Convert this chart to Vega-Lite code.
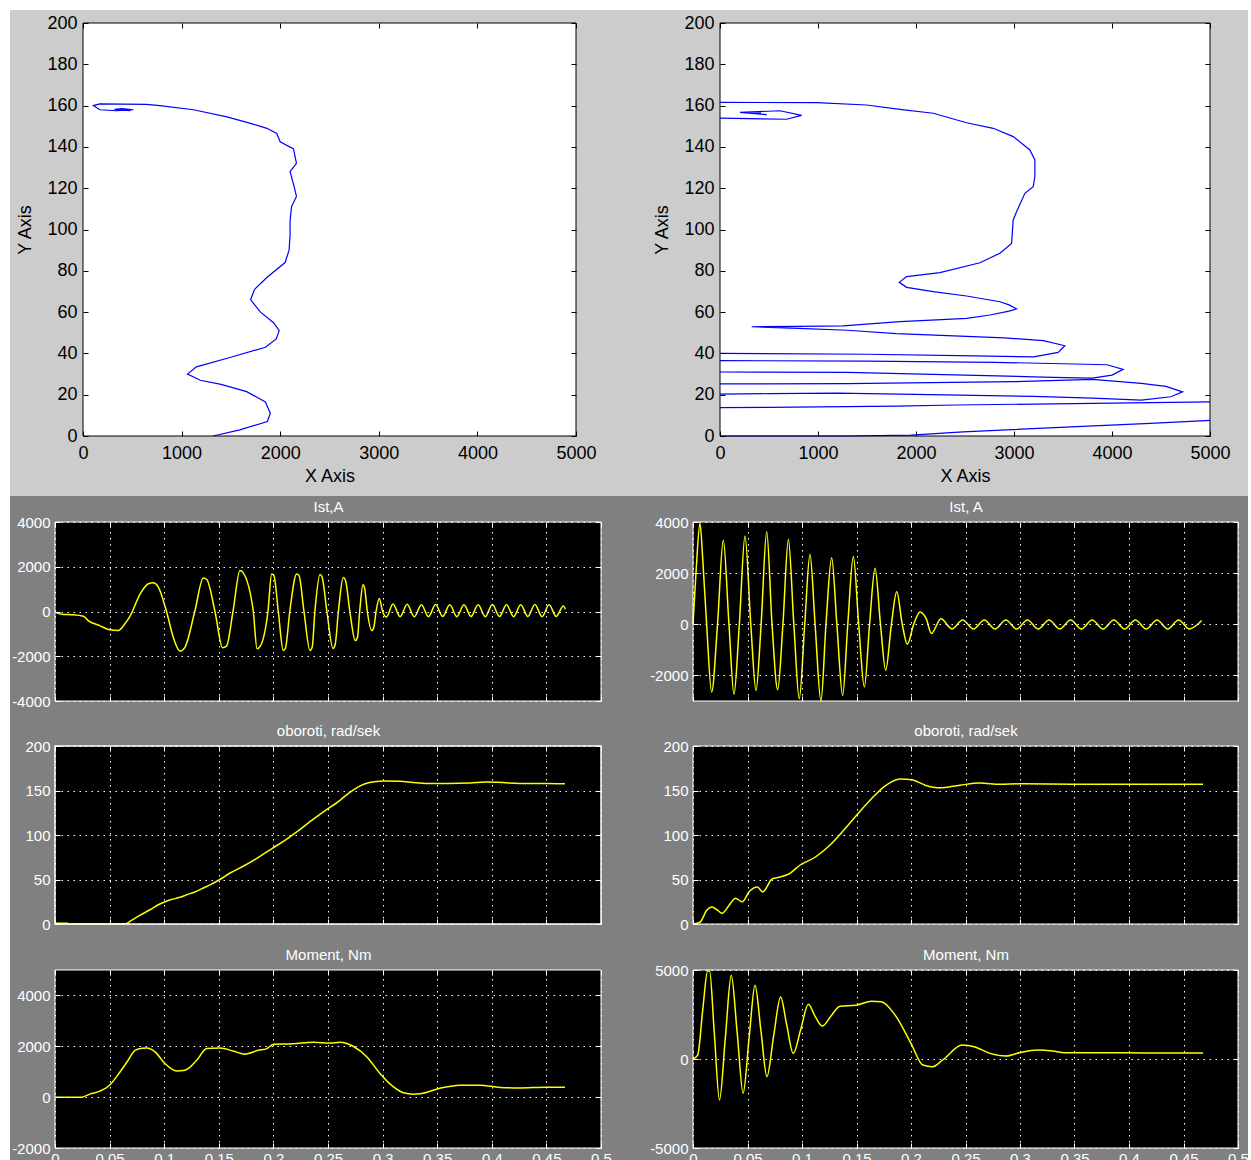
{
  "$schema": "https://vega.github.io/schema/vega-lite/v6.json",
  "background": "#ffffff",
  "padding": {"left": 10, "top": 10, "right": 3, "bottom": 0},
  "columns": 2,
  "spacing": 0,
  "bounds": "flush",
  "align": "each",
  "config": {
    "view": {"stroke": null},
    "axis": {
      "domain": false, "grid": false, "tickSize": -5, "tickWidth": 1,
      "labelFlush": false, "labelOverlap": false, "labelBound": false, "zindex": 1,
      "labelFont": "Liberation Sans", "titleFont": "Liberation Sans", "titleFontWeight": "normal",
      "labelFontSize": 15, "titleFontSize": 15, "labelPadding": 10,
      "gridColor": "#ffffff", "gridDash": [1.5, 4.5], "gridOpacity": 1, "gridWidth": 1,
      "tickColor": "#ffffff", "labelColor": "#ffffff", "titleColor": "#ffffff",
      "labelExpr": "'' + datum.value"
    }
  },
  "datasets": {
    "xyL": [
      {"i":0,"X":1320,"Y":0},{"i":1,"X":1590,"Y":3},{"i":2,"X":1870,"Y":7},{"i":3,"X":1900,"Y":11},
      {"i":4,"X":1850,"Y":16.5},{"i":5,"X":1660,"Y":21.5},{"i":6,"X":1400,"Y":25},{"i":7,"X":1190,"Y":27},
      {"i":8,"X":1060,"Y":30},{"i":9,"X":1150,"Y":33.5},{"i":10,"X":1490,"Y":38},{"i":11,"X":1850,"Y":43},
      {"i":12,"X":1960,"Y":47},{"i":13,"X":1990,"Y":51},{"i":14,"X":1930,"Y":55},{"i":15,"X":1800,"Y":60},
      {"i":16,"X":1700,"Y":66},{"i":17,"X":1740,"Y":71},{"i":18,"X":1870,"Y":77},{"i":19,"X":2050,"Y":84},
      {"i":20,"X":2090,"Y":90},{"i":21,"X":2100,"Y":97},{"i":22,"X":2100,"Y":104},{"i":23,"X":2115,"Y":111},
      {"i":24,"X":2165,"Y":116},{"i":25,"X":2140,"Y":121},{"i":26,"X":2100,"Y":128},{"i":27,"X":2165,"Y":132},
      {"i":28,"X":2135,"Y":139},{"i":29,"X":2000,"Y":142.5},{"i":30,"X":1965,"Y":146.5},{"i":31,"X":1865,"Y":149},
      {"i":32,"X":1690,"Y":151.5},{"i":33,"X":1460,"Y":154.5},{"i":34,"X":1120,"Y":158},{"i":35,"X":780,"Y":160},
      {"i":36,"X":645,"Y":160.6},{"i":37,"X":170,"Y":160.8},{"i":38,"X":105,"Y":160},{"i":39,"X":170,"Y":158},
      {"i":40,"X":340,"Y":157.5},{"i":41,"X":510,"Y":158},{"i":42,"X":400,"Y":158.6},{"i":43,"X":320,"Y":158.2},
      {"i":44,"X":480,"Y":157.6},{"i":45,"X":420,"Y":158}
    ],
    "xyR": [
      {"s":0,"i":0,"X":0,"Y":0},{"s":0,"i":1,"X":1300,"Y":0},{"s":0,"i":2,"X":1950,"Y":0.4},{"s":0,"i":3,"X":2480,"Y":2},
      {"s":0,"i":4,"X":3640,"Y":4.5},{"s":0,"i":5,"X":4390,"Y":6.1},{"s":0,"i":6,"X":5000,"Y":7.6},
      {"s":1,"i":7,"X":5000,"Y":16.5},{"s":1,"i":8,"X":3800,"Y":15.8},{"s":1,"i":9,"X":2400,"Y":15},{"s":1,"i":10,"X":1800,"Y":14.5},
      {"s":1,"i":11,"X":500,"Y":13.9},{"s":1,"i":12,"X":0,"Y":13.7},
      {"s":2,"i":13,"X":0,"Y":20.3},{"s":2,"i":14,"X":500,"Y":20.5},{"s":2,"i":15,"X":1200,"Y":20.8},{"s":2,"i":16,"X":2300,"Y":19.9},
      {"s":2,"i":17,"X":3200,"Y":19.2},{"s":2,"i":18,"X":3800,"Y":18.3},{"s":2,"i":19,"X":4300,"Y":17.4},{"s":2,"i":20,"X":4600,"Y":19},
      {"s":2,"i":21,"X":4720,"Y":21.4},{"s":2,"i":22,"X":4550,"Y":24},{"s":2,"i":23,"X":4300,"Y":25.5},{"s":2,"i":24,"X":3800,"Y":27.4},
      {"s":2,"i":25,"X":3000,"Y":26.3},{"s":2,"i":26,"X":1300,"Y":25.4},{"s":2,"i":27,"X":0,"Y":25.2},
      {"s":3,"i":28,"X":0,"Y":31},{"s":3,"i":29,"X":1300,"Y":30.8},{"s":3,"i":30,"X":2500,"Y":29.5},{"s":3,"i":31,"X":3400,"Y":28.4},
      {"s":3,"i":32,"X":3800,"Y":28},{"s":3,"i":33,"X":4000,"Y":29.5},{"s":3,"i":34,"X":4114,"Y":32.3},{"s":3,"i":35,"X":3950,"Y":34.5},
      {"s":3,"i":36,"X":3500,"Y":35},{"s":3,"i":37,"X":2800,"Y":35.7},{"s":3,"i":38,"X":1500,"Y":36.3},{"s":3,"i":39,"X":0,"Y":36.5},
      {"s":4,"i":40,"X":0,"Y":40},{"s":4,"i":41,"X":1500,"Y":39.6},{"s":4,"i":42,"X":2600,"Y":38.8},{"s":4,"i":43,"X":3200,"Y":38.3},
      {"s":4,"i":44,"X":3450,"Y":40.5},{"s":4,"i":45,"X":3519,"Y":43.7},{"s":4,"i":46,"X":3300,"Y":46.2},{"s":4,"i":47,"X":2900,"Y":47.5},
      {"s":4,"i":48,"X":2516,"Y":48.2},{"s":4,"i":49,"X":1800,"Y":49.6},{"s":4,"i":50,"X":1300,"Y":51.2},{"s":4,"i":51,"X":800,"Y":52.1},
      {"s":4,"i":52,"X":323,"Y":52.9},{"s":4,"i":53,"X":800,"Y":53.1},{"s":4,"i":54,"X":1258,"Y":53.3},{"s":4,"i":55,"X":1836,"Y":55.4},
      {"s":4,"i":56,"X":2210,"Y":56.2},{"s":4,"i":57,"X":2516,"Y":57},{"s":4,"i":58,"X":2754,"Y":58.6},{"s":4,"i":59,"X":2950,"Y":60.5},
      {"s":4,"i":60,"X":3026,"Y":61.6},{"s":4,"i":61,"X":2950,"Y":63.5},{"s":4,"i":62,"X":2856,"Y":65},{"s":4,"i":63,"X":2516,"Y":67.8},
      {"s":4,"i":64,"X":2176,"Y":69.9},{"s":4,"i":65,"X":1904,"Y":72},{"s":4,"i":66,"X":1829,"Y":74.4},{"s":4,"i":67,"X":1904,"Y":77.2},
      {"s":4,"i":68,"X":2244,"Y":79.1},{"s":4,"i":69,"X":2652,"Y":83.9},{"s":4,"i":70,"X":2856,"Y":88.5},{"s":4,"i":71,"X":2975,"Y":93.3},
      {"s":4,"i":72,"X":2992,"Y":104.6},{"s":4,"i":73,"X":3026,"Y":108.6},{"s":4,"i":74,"X":3111,"Y":117.5},{"s":4,"i":75,"X":3196,"Y":120.7},
      {"s":4,"i":76,"X":3213,"Y":125.6},{"s":4,"i":77,"X":3213,"Y":133.7},{"s":4,"i":78,"X":3162,"Y":138.5},{"s":4,"i":79,"X":2992,"Y":145},
      {"s":4,"i":80,"X":2788,"Y":149},{"s":4,"i":81,"X":2516,"Y":151.7},{"s":4,"i":82,"X":2176,"Y":156.3},{"s":4,"i":83,"X":1836,"Y":158.2},
      {"s":4,"i":84,"X":1496,"Y":160.3},{"s":4,"i":85,"X":986,"Y":161.4},{"s":4,"i":86,"X":0,"Y":161.6},
      {"s":5,"i":87,"X":0,"Y":153.9},{"s":5,"i":88,"X":680,"Y":153.4},{"s":5,"i":89,"X":833,"Y":155.3},{"s":5,"i":90,"X":612,"Y":157.5},
      {"s":5,"i":91,"X":204,"Y":156.7},{"s":5,"i":92,"X":476,"Y":155.6},{"s":5,"i":93,"X":340,"Y":156.3},{"s":5,"i":94,"X":420,"Y":156.4}
    ],
    "istL": [
      {"t":0,"v":-30},{"t":0.006,"v":-120},{"t":0.015,"v":-140},{"t":0.026,"v":-210},{"t":0.031,"v":-430},{"t":0.041,"v":-630},
      {"t":0.05,"v":-820},{"t":0.058,"v":-850},{"t":0.064,"v":-550},{"t":0.069,"v":-180},{"t":0.078,"v":790},{"t":0.0855,"v":1240},
      {"t":0.09,"v":1280},{"t":0.0946,"v":1090},{"t":0.1023,"v":-30},{"t":0.1083,"v":-1150},{"t":0.1145,"v":-1770},{"t":0.119,"v":-1600},
      {"t":0.128,"v":0},{"t":0.1358,"v":1500},{"t":0.139,"v":1430},{"t":0.1465,"v":0},{"t":0.1535,"v":-1620},{"t":0.157,"v":-1550},
      {"t":0.163,"v":0},{"t":0.1694,"v":1830},{"t":0.172,"v":1750},{"t":0.1816,"v":0},{"t":0.185,"v":-1670},{"t":0.188,"v":-1550},
      {"t":0.195,"v":0},{"t":0.1984,"v":1680},{"t":0.2005,"v":1600},{"t":0.2045,"v":0},{"t":0.209,"v":-1740},{"t":0.211,"v":-1650},
      {"t":0.215,"v":0},{"t":0.2213,"v":1680},{"t":0.2235,"v":1600},{"t":0.228,"v":0},{"t":0.2335,"v":-1740},{"t":0.2355,"v":-1600},
      {"t":0.238,"v":0},{"t":0.2427,"v":1650},{"t":0.2445,"v":1550},{"t":0.249,"v":0},{"t":0.2545,"v":-1650},{"t":0.2565,"v":-1500},
      {"t":0.2595,"v":0},{"t":0.264,"v":1520},{"t":0.266,"v":1400},{"t":0.27,"v":0},{"t":0.275,"v":-1300},{"t":0.277,"v":-1150},
      {"t":0.279,"v":0},{"t":0.282,"v":1200},{"t":0.2835,"v":1050},{"t":0.286,"v":0},{"t":0.29,"v":-850},{"t":0.292,"v":-700},
      {"t":0.294,"v":0},{"t":0.297,"v":580},{"t":0.3,"v":0},{"t":0.3035,"v":-250},{"t":0.3095,"v":330},{"t":0.316,"v":-230},
      {"t":0.3225,"v":320},{"t":0.329,"v":-240},{"t":0.3355,"v":300},{"t":0.342,"v":-230},{"t":0.3485,"v":310},{"t":0.355,"v":-220},
      {"t":0.3615,"v":300},{"t":0.368,"v":-230},{"t":0.3745,"v":300},{"t":0.381,"v":-220},{"t":0.3875,"v":300},{"t":0.394,"v":-230},
      {"t":0.4005,"v":310},{"t":0.407,"v":-220},{"t":0.4135,"v":300},{"t":0.42,"v":-230},{"t":0.4265,"v":300},{"t":0.433,"v":-220},
      {"t":0.4395,"v":310},{"t":0.446,"v":-230},{"t":0.4525,"v":300},{"t":0.459,"v":-220},{"t":0.4655,"v":250},{"t":0.4675,"v":100}
    ],
    "obL": [
      {"t":0,"v":0.8},{"t":0.011,"v":0.8},{"t":0.014,"v":0},{"t":0.064,"v":0},{"t":0.07,"v":4},{"t":0.078,"v":10},{"t":0.087,"v":16},{"t":0.096,"v":22.5},
      {"t":0.105,"v":27},{"t":0.1145,"v":30},{"t":0.121,"v":33},{"t":0.128,"v":36},{"t":0.135,"v":40},{"t":0.142,"v":44},
      {"t":0.151,"v":50},{"t":0.16,"v":57},{"t":0.174,"v":66},{"t":0.1877,"v":76},{"t":0.199,"v":85},{"t":0.2106,"v":94},
      {"t":0.222,"v":104},{"t":0.2335,"v":115},{"t":0.247,"v":127},{"t":0.261,"v":139},{"t":0.27,"v":148},{"t":0.279,"v":155},
      {"t":0.288,"v":159},{"t":0.297,"v":160.5},{"t":0.302,"v":160.6},{"t":0.316,"v":160.5},{"t":0.328,"v":159},{"t":0.34,"v":158},
      {"t":0.36,"v":158},{"t":0.38,"v":158.5},{"t":0.395,"v":159.5},{"t":0.41,"v":159},{"t":0.425,"v":158},{"t":0.45,"v":158},{"t":0.467,"v":157.5}
    ],
    "momL": [
      {"t":0,"v":0},{"t":0.0245,"v":0},{"t":0.032,"v":118},{"t":0.041,"v":235},{"t":0.05,"v":470},{"t":0.0595,"v":990},
      {"t":0.067,"v":1450},{"t":0.0733,"v":1840},{"t":0.08,"v":1920},{"t":0.084,"v":1930},{"t":0.0916,"v":1780},{"t":0.1007,"v":1320},
      {"t":0.1114,"v":1030},{"t":0.119,"v":1058},{"t":0.1298,"v":1450},{"t":0.139,"v":1910},{"t":0.151,"v":1930},{"t":0.163,"v":1816},
      {"t":0.174,"v":1690},{"t":0.186,"v":1840},{"t":0.194,"v":1910},{"t":0.2,"v":2080},{"t":0.218,"v":2100},{"t":0.2366,"v":2156},
      {"t":0.2518,"v":2130},{"t":0.261,"v":2156},{"t":0.273,"v":2000},{"t":0.2857,"v":1580},{"t":0.2976,"v":930},{"t":0.31,"v":400},
      {"t":0.319,"v":170},{"t":0.328,"v":118},{"t":0.334,"v":130},{"t":0.3525,"v":350},{"t":0.371,"v":470},{"t":0.389,"v":470},
      {"t":0.4075,"v":380},{"t":0.426,"v":360},{"t":0.449,"v":390},{"t":0.467,"v":390}
    ],
    "istR": [
      {"t":0,"v":0},{"t":0.003,"v":2200},{"t":0.0064,"v":3950},{"t":0.009,"v":2500},{"t":0.0125,"v":0},{"t":0.0171,"v":-2650},
      {"t":0.0225,"v":0},{"t":0.0278,"v":3290},{"t":0.033,"v":0},{"t":0.0376,"v":-2740},{"t":0.0425,"v":0},{"t":0.0477,"v":3450},
      {"t":0.053,"v":0},{"t":0.0578,"v":-2590},{"t":0.0625,"v":0},{"t":0.0676,"v":3620},{"t":0.0725,"v":0},{"t":0.0777,"v":-2560},
      {"t":0.0825,"v":0},{"t":0.0875,"v":3320},{"t":0.0925,"v":0},{"t":0.0975,"v":-2910},{"t":0.1025,"v":0},{"t":0.1073,"v":2740},
      {"t":0.112,"v":0},{"t":0.1174,"v":-3000},{"t":0.122,"v":0},{"t":0.1272,"v":2600},{"t":0.132,"v":0},{"t":0.1373,"v":-2780},
      {"t":0.142,"v":0},{"t":0.1471,"v":2650},{"t":0.152,"v":0},{"t":0.1572,"v":-2450},{"t":0.162,"v":0},{"t":0.167,"v":2190},
      {"t":0.172,"v":0},{"t":0.1768,"v":-1800},{"t":0.182,"v":0},{"t":0.1869,"v":1270},{"t":0.192,"v":0},{"t":0.1966,"v":-780},
      {"t":0.2025,"v":0},{"t":0.2083,"v":480},{"t":0.2141,"v":200},{"t":0.2187,"v":-360},{"t":0.2275,"v":220},{"t":0.2375,"v":-180},
      {"t":0.2474,"v":170},{"t":0.2573,"v":-180},{"t":0.2672,"v":170},{"t":0.2771,"v":-180},{"t":0.287,"v":170},{"t":0.2969,"v":-180},
      {"t":0.3068,"v":170},{"t":0.3167,"v":-180},{"t":0.3266,"v":170},{"t":0.3365,"v":-180},{"t":0.3464,"v":170},{"t":0.3563,"v":-180},
      {"t":0.3662,"v":170},{"t":0.3762,"v":-180},{"t":0.3861,"v":170},{"t":0.396,"v":-180},{"t":0.4059,"v":170},{"t":0.4158,"v":-180},
      {"t":0.4257,"v":170},{"t":0.4356,"v":-180},{"t":0.4455,"v":170},{"t":0.4554,"v":-180},{"t":0.4667,"v":150}
    ],
    "obR": [
      {"t":0,"v":0},{"t":0.0064,"v":2},{"t":0.0128,"v":15.7},{"t":0.0174,"v":19},{"t":0.022,"v":16},{"t":0.0266,"v":12},
      {"t":0.034,"v":22.5},{"t":0.039,"v":29},{"t":0.045,"v":25},{"t":0.052,"v":37},{"t":0.059,"v":41.6},{"t":0.064,"v":36},
      {"t":0.0725,"v":50.6},{"t":0.08,"v":52.8},{"t":0.089,"v":57},{"t":0.098,"v":66},{"t":0.112,"v":75},{"t":0.126,"v":89},
      {"t":0.144,"v":113.5},{"t":0.1624,"v":139},{"t":0.176,"v":155},{"t":0.19,"v":163},{"t":0.201,"v":162},{"t":0.213,"v":156},
      {"t":0.2266,"v":153},{"t":0.245,"v":156},{"t":0.263,"v":158.4},{"t":0.2817,"v":157},{"t":0.3,"v":157.5},{"t":0.35,"v":157},
      {"t":0.4,"v":157},{"t":0.468,"v":157}
    ],
    "momR": [
      {"t":0,"v":0},{"t":0.0043,"v":220},{"t":0.009,"v":2800},{"t":0.0134,"v":4950},{"t":0.0152,"v":4950},{"t":0.0195,"v":1500},
      {"t":0.0243,"v":-2300},{"t":0.0297,"v":1200},{"t":0.0351,"v":4700},{"t":0.0405,"v":1500},{"t":0.046,"v":-1920},{"t":0.0515,"v":1200},
      {"t":0.0569,"v":4140},{"t":0.0623,"v":1600},{"t":0.0678,"v":-990},{"t":0.074,"v":1300},{"t":0.0804,"v":3490},{"t":0.086,"v":1900},
      {"t":0.092,"v":317},{"t":0.099,"v":1700},{"t":0.1058,"v":3080},{"t":0.112,"v":2400},{"t":0.1185,"v":1850},{"t":0.127,"v":2450},
      {"t":0.1348,"v":2970},{"t":0.1493,"v":3020},{"t":0.1638,"v":3250},{"t":0.1728,"v":3210},{"t":0.1855,"v":2460},{"t":0.2,"v":880},
      {"t":0.2109,"v":-340},{"t":0.22,"v":-430},{"t":0.229,"v":-56},{"t":0.2471,"v":780},{"t":0.258,"v":690},{"t":0.2725,"v":317},
      {"t":0.287,"v":168},{"t":0.2996,"v":355},{"t":0.316,"v":500},{"t":0.33,"v":450},{"t":0.341,"v":355},{"t":0.3775,"v":355},
      {"t":0.4138,"v":340},{"t":0.468,"v":340}
    ]
  },
  "concat": [
    {
      "width": 625, "height": 486,
      "view": {"fill": "#cccccc", "stroke": null},
      "layer": [
        {
          "data": {"values": [{}]},
          "mark": {"type": "rect", "fill": "#ffffff"},
          "encoding": {
            "x": {"datum": 0, "type": "quantitative",
              "scale": {"domain": [0, 5000], "range": [73, 566], "nice": false, "zero": false},
              "axis": {"orient": "bottom", "offset": -60, "zindex": 1, "values": [0, 1000, 2000, 3000, 4000, 5000],
                "tickColor": "#000000", "labelColor": "#000000", "labelFontSize": 18, "labelPadding": 13,
                "title": "X Axis", "titleColor": "#000000", "titleFontSize": 18, "titleBaseline": "middle", "titleY": 40}},
            "x2": {"datum": 5000},
            "y": {"datum": 0, "type": "quantitative",
              "scale": {"domain": [0, 200], "range": [426, 13], "nice": false, "zero": false},
              "axis": {"orient": "left", "offset": -73, "zindex": 1, "values": [0, 20, 40, 60, 80, 100, 120, 140, 160, 180, 200],
                "tickColor": "#000000", "labelColor": "#000000", "labelFontSize": 18, "labelPadding": 11,
                "title": "Y Axis", "titleColor": "#000000", "titleFontSize": 18, "titleBaseline": "middle", "titleX": -58}},
            "y2": {"datum": 200}
          }
        },
        {
          "data": {"name": "xyL"},
          "mark": {"type": "line", "stroke": "#0000ff", "strokeWidth": 1.2},
          "encoding": {
            "x": {"field": "X", "type": "quantitative",
              "axis": {"orient": "top", "offset": -13, "zindex": 1, "values": [0, 1000, 2000, 3000, 4000, 5000], "labels": false, "tickColor": "#000000", "title": null}},
            "y": {"field": "Y", "type": "quantitative",
              "axis": {"orient": "right", "offset": -59, "zindex": 1, "values": [0, 20, 40, 60, 80, 100, 120, 140, 160, 180, 200], "labels": false, "tickColor": "#000000", "title": null}},
            "order": {"field": "i", "type": "quantitative"}
          }
        },
        {
          "data": {"values": [{}]},
          "mark": {"type": "rect", "filled": false, "stroke": "#000000", "strokeWidth": 1},
          "encoding": {
            "x": {"datum": 0, "type": "quantitative", "axis": null}, "x2": {"datum": 5000},
            "y": {"datum": 0, "type": "quantitative", "axis": null}, "y2": {"datum": 200}
          }
        }
      ]
    },
    {
      "width": 613, "height": 486,
      "view": {"fill": "#cccccc", "stroke": null},
      "layer": [
        {
          "data": {"values": [{}]},
          "mark": {"type": "rect", "fill": "#ffffff"},
          "encoding": {
            "x": {"datum": 0, "type": "quantitative",
              "scale": {"domain": [0, 5000], "range": [85, 575], "nice": false, "zero": false},
              "axis": {"orient": "bottom", "offset": -60, "zindex": 1, "values": [0, 1000, 2000, 3000, 4000, 5000],
                "tickColor": "#000000", "labelColor": "#000000", "labelFontSize": 18, "labelPadding": 13,
                "title": "X Axis", "titleColor": "#000000", "titleFontSize": 18, "titleBaseline": "middle", "titleY": 40}},
            "x2": {"datum": 5000},
            "y": {"datum": 0, "type": "quantitative",
              "scale": {"domain": [0, 200], "range": [426, 13], "nice": false, "zero": false},
              "axis": {"orient": "left", "offset": -85, "zindex": 1, "values": [0, 20, 40, 60, 80, 100, 120, 140, 160, 180, 200],
                "tickColor": "#000000", "labelColor": "#000000", "labelFontSize": 18, "labelPadding": 11,
                "title": "Y Axis", "titleColor": "#000000", "titleFontSize": 18, "titleBaseline": "middle", "titleX": -58}},
            "y2": {"datum": 200}
          }
        },
        {
          "data": {"name": "xyR"},
          "mark": {"type": "line", "stroke": "#0000ff", "strokeWidth": 1.2},
          "encoding": {
            "x": {"field": "X", "type": "quantitative",
              "axis": {"orient": "top", "offset": -13, "zindex": 1, "values": [0, 1000, 2000, 3000, 4000, 5000], "labels": false, "tickColor": "#000000", "title": null}},
            "y": {"field": "Y", "type": "quantitative",
              "axis": {"orient": "right", "offset": -38, "zindex": 1, "values": [0, 20, 40, 60, 80, 100, 120, 140, 160, 180, 200], "labels": false, "tickColor": "#000000", "title": null}},
            "detail": {"field": "s", "type": "nominal"},
            "order": {"field": "i", "type": "quantitative"}
          }
        },
        {
          "data": {"values": [{}]},
          "mark": {"type": "rect", "filled": false, "stroke": "#000000", "strokeWidth": 1},
          "encoding": {
            "x": {"datum": 0, "type": "quantitative", "axis": null}, "x2": {"datum": 5000},
            "y": {"datum": 0, "type": "quantitative", "axis": null}, "y2": {"datum": 200}
          }
        }
      ]
    },
    {
      "width": 625, "height": 224,
      "view": {"fill": "#808080", "stroke": null},
      "layer": [
        {
          "data": {"values": [{}]},
          "mark": {"type": "rect", "fill": "#000000"},
          "encoding": {
            "x": {"datum": 0, "type": "quantitative",
              "scale": {"domain": [0, 0.5], "range": [45, 591], "nice": false, "zero": false},
              "axis": {"orient": "bottom", "offset": -19, "zindex": 1, "values": [0, 0.05, 0.1, 0.15, 0.2, 0.25, 0.3, 0.35, 0.4, 0.45, 0.5], "labels": false, "title": null}},
            "x2": {"datum": 0.5},
            "y": {"datum": -4000, "type": "quantitative",
              "scale": {"domain": [-4000, 4000], "range": [205, 26], "nice": false, "zero": false},
              "axis": {"orient": "left", "offset": -45, "zindex": 1, "values": [-4000, -2000, 0, 2000, 4000], "grid": true, "title": null}},
            "y2": {"datum": 4000}
          }
        },
        {
          "data": {"name": "istL"},
          "mark": {"type": "line", "stroke": "#ffff00", "strokeWidth": 1.5, "interpolate": "monotone"},
          "encoding": {
            "x": {"field": "t", "type": "quantitative",
              "axis": {"orient": "top", "offset": -26, "zindex": 1, "values": [0, 0.05, 0.1, 0.15, 0.2, 0.25, 0.3, 0.35, 0.4, 0.45, 0.5], "labels": false, "grid": true,
                "title": "Ist,A", "titleBaseline": "middle", "titleY": -16}},
            "y": {"field": "v", "type": "quantitative",
              "axis": {"orient": "right", "offset": -34, "zindex": 1, "values": [-4000, -2000, 0, 2000, 4000], "labels": false, "title": null}}
          }
        },
        {
          "data": {"values": [{}]},
          "mark": {"type": "rect", "filled": false, "stroke": "#ffffff", "strokeWidth": 1},
          "encoding": {
            "x": {"datum": 0, "type": "quantitative", "axis": null}, "x2": {"datum": 0.5},
            "y": {"datum": -4000, "type": "quantitative", "axis": null}, "y2": {"datum": 4000}
          }
        }
      ]
    },
    {
      "width": 613, "height": 224,
      "view": {"fill": "#808080", "stroke": null},
      "layer": [
        {
          "data": {"values": [{}]},
          "mark": {"type": "rect", "fill": "#000000"},
          "encoding": {
            "x": {"datum": 0, "type": "quantitative",
              "scale": {"domain": [0, 0.5], "range": [58, 603], "nice": false, "zero": false},
              "axis": {"orient": "bottom", "offset": -19, "zindex": 1, "values": [0, 0.05, 0.1, 0.15, 0.2, 0.25, 0.3, 0.35, 0.4, 0.45, 0.5], "labels": false, "title": null}},
            "x2": {"datum": 0.5},
            "y": {"datum": -3000, "type": "quantitative",
              "scale": {"domain": [-3000, 4000], "range": [205, 26], "nice": false, "zero": false},
              "axis": {"orient": "left", "offset": -58, "zindex": 1, "values": [-2000, 0, 2000, 4000], "grid": true, "title": null}},
            "y2": {"datum": 4000}
          }
        },
        {
          "data": {"name": "istR"},
          "mark": {"type": "line", "stroke": "#ffff00", "strokeWidth": 1.5, "interpolate": "monotone"},
          "encoding": {
            "x": {"field": "t", "type": "quantitative",
              "axis": {"orient": "top", "offset": -26, "zindex": 1, "values": [0, 0.05, 0.1, 0.15, 0.2, 0.25, 0.3, 0.35, 0.4, 0.45, 0.5], "labels": false, "grid": true,
                "title": "Ist, A", "titleBaseline": "middle", "titleY": -16}},
            "y": {"field": "v", "type": "quantitative",
              "axis": {"orient": "right", "offset": -10, "zindex": 1, "values": [-2000, 0, 2000, 4000], "labels": false, "title": null}}
          }
        },
        {
          "data": {"values": [{}]},
          "mark": {"type": "rect", "filled": false, "stroke": "#ffffff", "strokeWidth": 1},
          "encoding": {
            "x": {"datum": 0, "type": "quantitative", "axis": null}, "x2": {"datum": 0.5},
            "y": {"datum": -3000, "type": "quantitative", "axis": null}, "y2": {"datum": 4000}
          }
        }
      ]
    },
    {
      "width": 625, "height": 224,
      "view": {"fill": "#808080", "stroke": null},
      "layer": [
        {
          "data": {"values": [{}]},
          "mark": {"type": "rect", "fill": "#000000"},
          "encoding": {
            "x": {"datum": 0, "type": "quantitative",
              "scale": {"domain": [0, 0.5], "range": [45, 591], "nice": false, "zero": false},
              "axis": {"orient": "bottom", "offset": -20, "zindex": 1, "values": [0, 0.05, 0.1, 0.15, 0.2, 0.25, 0.3, 0.35, 0.4, 0.45, 0.5], "labels": false, "title": null}},
            "x2": {"datum": 0.5},
            "y": {"datum": 0, "type": "quantitative",
              "scale": {"domain": [0, 200], "range": [204, 26], "nice": false, "zero": false},
              "axis": {"orient": "left", "offset": -45, "zindex": 1, "values": [0, 50, 100, 150, 200], "grid": true, "title": null}},
            "y2": {"datum": 200}
          }
        },
        {
          "data": {"name": "obL"},
          "mark": {"type": "line", "stroke": "#ffff00", "strokeWidth": 1.5, "interpolate": "monotone"},
          "encoding": {
            "x": {"field": "t", "type": "quantitative",
              "axis": {"orient": "top", "offset": -26, "zindex": 1, "values": [0, 0.05, 0.1, 0.15, 0.2, 0.25, 0.3, 0.35, 0.4, 0.45, 0.5], "labels": false, "grid": true,
                "title": "oboroti, rad/sek", "titleBaseline": "middle", "titleY": -16}},
            "y": {"field": "v", "type": "quantitative",
              "axis": {"orient": "right", "offset": -34, "zindex": 1, "values": [0, 50, 100, 150, 200], "labels": false, "title": null}}
          }
        },
        {
          "data": {"values": [{}]},
          "mark": {"type": "rect", "filled": false, "stroke": "#ffffff", "strokeWidth": 1.5},
          "encoding": {
            "x": {"datum": 0, "type": "quantitative", "axis": null}, "x2": {"datum": 0.5},
            "y": {"datum": 0, "type": "quantitative", "axis": null}, "y2": {"datum": 200}
          }
        }
      ]
    },
    {
      "width": 613, "height": 224,
      "view": {"fill": "#808080", "stroke": null},
      "layer": [
        {
          "data": {"values": [{}]},
          "mark": {"type": "rect", "fill": "#000000"},
          "encoding": {
            "x": {"datum": 0, "type": "quantitative",
              "scale": {"domain": [0, 0.5], "range": [58, 603], "nice": false, "zero": false},
              "axis": {"orient": "bottom", "offset": -20, "zindex": 1, "values": [0, 0.05, 0.1, 0.15, 0.2, 0.25, 0.3, 0.35, 0.4, 0.45, 0.5], "labels": false, "title": null}},
            "x2": {"datum": 0.5},
            "y": {"datum": 0, "type": "quantitative",
              "scale": {"domain": [0, 200], "range": [204, 26], "nice": false, "zero": false},
              "axis": {"orient": "left", "offset": -58, "zindex": 1, "values": [0, 50, 100, 150, 200], "grid": true, "title": null}},
            "y2": {"datum": 200}
          }
        },
        {
          "data": {"name": "obR"},
          "mark": {"type": "line", "stroke": "#ffff00", "strokeWidth": 1.5, "interpolate": "monotone"},
          "encoding": {
            "x": {"field": "t", "type": "quantitative",
              "axis": {"orient": "top", "offset": -26, "zindex": 1, "values": [0, 0.05, 0.1, 0.15, 0.2, 0.25, 0.3, 0.35, 0.4, 0.45, 0.5], "labels": false, "grid": true,
                "title": "oboroti, rad/sek", "titleBaseline": "middle", "titleY": -16}},
            "y": {"field": "v", "type": "quantitative",
              "axis": {"orient": "right", "offset": -10, "zindex": 1, "values": [0, 50, 100, 150, 200], "labels": false, "title": null}}
          }
        },
        {
          "data": {"values": [{}]},
          "mark": {"type": "rect", "filled": false, "stroke": "#ffffff", "strokeWidth": 1},
          "encoding": {
            "x": {"datum": 0, "type": "quantitative", "axis": null}, "x2": {"datum": 0.5},
            "y": {"datum": 0, "type": "quantitative", "axis": null}, "y2": {"datum": 200}
          }
        }
      ]
    },
    {
      "width": 625, "height": 216,
      "view": {"fill": "#808080", "stroke": null},
      "layer": [
        {
          "data": {"values": [{}]},
          "mark": {"type": "rect", "fill": "#000000"},
          "encoding": {
            "x": {"datum": 0, "type": "quantitative",
              "scale": {"domain": [0, 0.5], "range": [45, 591], "nice": false, "zero": false},
              "axis": {"orient": "bottom", "offset": -12, "zindex": 1, "values": [0, 0.05, 0.1, 0.15, 0.2, 0.25, 0.3, 0.35, 0.4, 0.45, 0.5],
                "labelPadding": 8, "title": null}},
            "x2": {"datum": 0.5},
            "y": {"datum": -2000, "type": "quantitative",
              "scale": {"domain": [-2000, 5000], "range": [204, 26], "nice": false, "zero": false},
              "axis": {"orient": "left", "offset": -45, "zindex": 1, "values": [-2000, 0, 2000, 4000], "grid": true, "title": null}},
            "y2": {"datum": 5000}
          }
        },
        {
          "data": {"name": "momL"},
          "mark": {"type": "line", "stroke": "#ffff00", "strokeWidth": 1.5, "interpolate": "monotone"},
          "encoding": {
            "x": {"field": "t", "type": "quantitative",
              "axis": {"orient": "top", "offset": -26, "zindex": 1, "values": [0, 0.05, 0.1, 0.15, 0.2, 0.25, 0.3, 0.35, 0.4, 0.45, 0.5], "labels": false, "grid": true,
                "title": "Moment, Nm", "titleBaseline": "middle", "titleY": -16}},
            "y": {"field": "v", "type": "quantitative",
              "axis": {"orient": "right", "offset": -34, "zindex": 1, "values": [-2000, 0, 2000, 4000], "labels": false, "title": null}}
          }
        },
        {
          "data": {"values": [{}]},
          "mark": {"type": "rect", "filled": false, "stroke": "#ffffff", "strokeWidth": 1},
          "encoding": {
            "x": {"datum": 0, "type": "quantitative", "axis": null}, "x2": {"datum": 0.5},
            "y": {"datum": -2000, "type": "quantitative", "axis": null}, "y2": {"datum": 5000}
          }
        }
      ]
    },
    {
      "width": 613, "height": 216,
      "view": {"fill": "#808080", "stroke": null},
      "layer": [
        {
          "data": {"values": [{}]},
          "mark": {"type": "rect", "fill": "#000000"},
          "encoding": {
            "x": {"datum": 0, "type": "quantitative",
              "scale": {"domain": [0, 0.5], "range": [58, 603], "nice": false, "zero": false},
              "axis": {"orient": "bottom", "offset": -12, "zindex": 1, "values": [0, 0.05, 0.1, 0.15, 0.2, 0.25, 0.3, 0.35, 0.4, 0.45, 0.5],
                "labelPadding": 8, "title": null}},
            "x2": {"datum": 0.5},
            "y": {"datum": -5000, "type": "quantitative",
              "scale": {"domain": [-5000, 5000], "range": [204, 26], "nice": false, "zero": false},
              "axis": {"orient": "left", "offset": -58, "zindex": 1, "values": [-5000, 0, 5000], "grid": true, "title": null}},
            "y2": {"datum": 5000}
          }
        },
        {
          "data": {"name": "momR"},
          "mark": {"type": "line", "stroke": "#ffff00", "strokeWidth": 1.5, "interpolate": "monotone"},
          "encoding": {
            "x": {"field": "t", "type": "quantitative",
              "axis": {"orient": "top", "offset": -26, "zindex": 1, "values": [0, 0.05, 0.1, 0.15, 0.2, 0.25, 0.3, 0.35, 0.4, 0.45, 0.5], "labels": false, "grid": true,
                "title": "Moment, Nm", "titleBaseline": "middle", "titleY": -16}},
            "y": {"field": "v", "type": "quantitative",
              "axis": {"orient": "right", "offset": -10, "zindex": 1, "values": [-5000, 0, 5000], "labels": false, "title": null}}
          }
        },
        {
          "data": {"values": [{}]},
          "mark": {"type": "rect", "filled": false, "stroke": "#ffffff", "strokeWidth": 1},
          "encoding": {
            "x": {"datum": 0, "type": "quantitative", "axis": null}, "x2": {"datum": 0.5},
            "y": {"datum": -5000, "type": "quantitative", "axis": null}, "y2": {"datum": 5000}
          }
        }
      ]
    }
  ]
}
